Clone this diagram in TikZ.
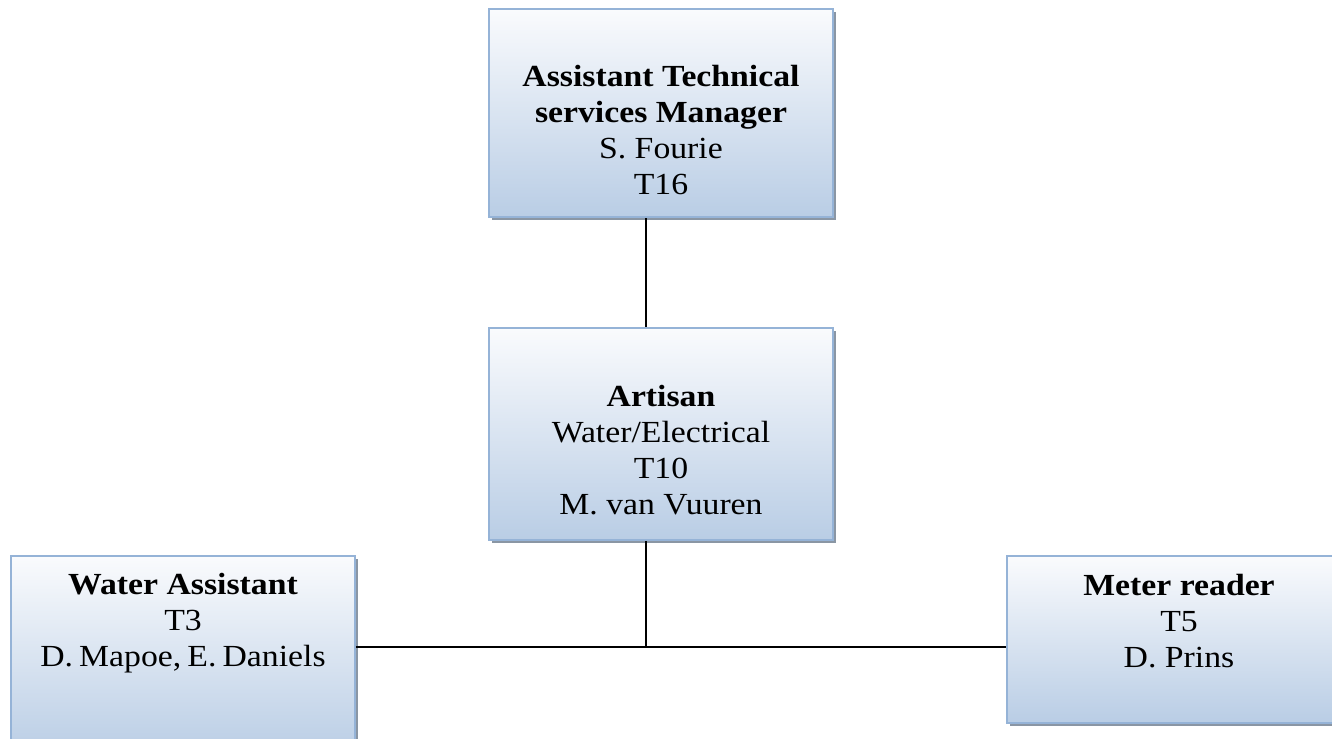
\documentclass[tikz,border=0pt]{standalone}
\usepackage{fontspec}
\setmainfont{Liberation Serif}[FakeStretch=1.1]
\usetikzlibrary{shadows}
\definecolor{boxedge}{RGB}{149,179,215}
\definecolor{boxtop}{RGB}{250,251,253}
\definecolor{boxbottom}{RGB}{185,205,229}
\definecolor{boxshade}{RGB}{138,150,164}
\begin{document}
\begin{tikzpicture}[x=0.75pt,y=-0.75pt,
  orgbox/.style={rectangle, draw=boxedge, line width=1.5pt,
    top color=boxtop, bottom color=boxbottom,
    drop shadow={shadow xshift=2.5pt, shadow yshift=-2.5pt, fill=boxshade, opacity=1},
    inner sep=0pt},
  orgtext/.style={align=center, font=\fontsize{23}{27}\selectfont, inner sep=0pt},
  link/.style={draw=black, line width=1.6pt}]
\useasboundingbox (0,0) rectangle (1332,739);
\begin{scope}
\clip (0,0) rectangle (1332,739);
% boxes
\node[orgbox, minimum width=258pt, minimum height=156pt] (mgr) at (661,113) {};
\node[orgbox, minimum width=258pt, minimum height=159pt] (art) at (661,434) {};
\node[orgbox, minimum width=258pt, minimum height=150pt] (wat) at (183,656) {};
\node[orgbox, minimum width=258pt, minimum height=125pt] (met) at (1179,639.5) {};
% connectors
\coordinate (jn) at (646,647);
\draw[link] (mgr.south -| jn) -- (art.north -| jn);
\draw[link] (art.south -| jn) -- (jn);
\draw[link] (wat.east |- jn) -- (met.west |- jn);
% labels
\node[orgtext] (mgr-t) at (661,130) {\textbf{Assistant Technical}\\\textbf{services Manager}\\S. Fourie\\T16};
\node[orgtext] (art-t) at (661,450) {\textbf{Artisan}\\Water/Electrical\\T10\\M. van Vuuren};
\node[orgtext] (wat-t) at (183,623) {\textbf{Water Assistant}\\T3\\\spaceskip=0.2em D. Mapoe, E. Daniels};
\node[orgtext] (met-t) at (1179,621) {\textbf{Meter reader}\\T5\\D. Prins};
\end{scope}
\end{tikzpicture}
\end{document}
